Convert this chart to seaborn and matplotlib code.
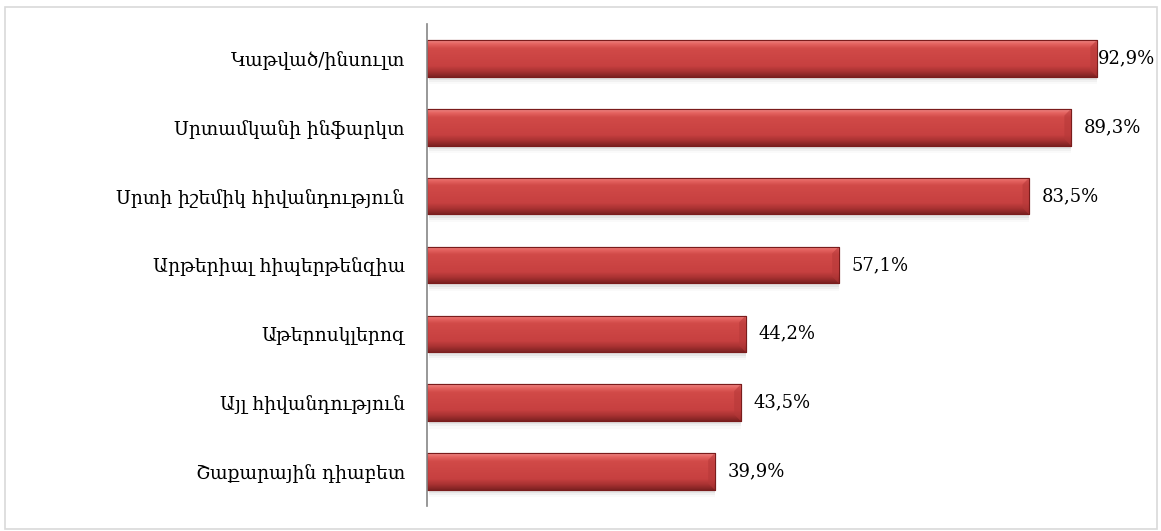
import numpy as np
import pandas as pd
import matplotlib
matplotlib.use("Agg")
import matplotlib.pyplot as plt
import seaborn as sns
from matplotlib.colors import LinearSegmentedColormap
from matplotlib.patches import Rectangle

categories = [
    "Կաթված/ինսուլտ",
    "Սրտամկանի ինֆարկտ",
    "Սրտի իշեմիկ հիվանդություն",
    "Արթերիալ հիպերթենզիա",
    "Աթերոսկլերոզ",
    "Այլ հիվանդություն",
    "Շաքարային դիաբետ",
]
values = [92.9, 89.3, 83.5, 57.1, 44.2, 43.5, 39.9]
value_labels = ["92,9%", "89,3%", "83,5%", "57,1%", "44,2%", "43,5%", "39,9%"]

sns.set_theme(style="white")
plt.rcParams["font.family"] = ["DejaVu Serif"]

W, H = 1161, 531
fig = plt.figure(figsize=(W / 100, H / 100), dpi=100)
fig.patch.set_facecolor("white")

# light chart-area frame
fig.add_artist(Rectangle((5 / W, 1 - 529 / H), 1152 / W, 522 / H,
                         transform=fig.transFigure, fill=False,
                         edgecolor="#D9D9D9", linewidth=1.2))

ax = fig.add_axes([427 / W, 1 - 506 / H, 721 / W, 482 / H])
df = pd.DataFrame({"cat": categories, "val": values})
sns.barplot(data=df, x="val", y="cat", orient="h", color="#C94242",
            saturation=1, width=0.53, edgecolor="#7A1C1C", linewidth=0.8,
            ax=ax, zorder=3)

# vertical shading of each bar: light top band, darker bottom edge
shade = LinearSegmentedColormap.from_list("bevel", [
    (0.00, "#EE8684"), (0.10, "#E4625F"), (0.22, "#D14A48"),
    (0.70, "#C74040"), (0.85, "#AA3333"), (1.00, "#7E2222")])
grad = np.linspace(0, 1, 64).reshape(-1, 1)
for patch in list(ax.patches):
    x0, y0 = patch.get_x(), patch.get_y()
    w, h = patch.get_width(), patch.get_height()
    # soft drop shadow under the bar
    for k, a in enumerate([0.10, 0.07, 0.04]):
        ax.add_patch(Rectangle((x0 + 0.3, y0 + 0.05 + k * 0.03), w - 0.3, h,
                               facecolor="#808080", edgecolor="none",
                               alpha=a, zorder=1))
    im = ax.imshow(grad, extent=(x0, x0 + w, y0 + h, y0), origin="upper",
                   aspect="auto", cmap=shade, zorder=3.5, interpolation="bilinear")
    im.set_clip_path(patch)
    # chamfered right end
    bev = min(0.9, w * 0.1)
    ax.fill([x0 + w - bev, x0 + w, x0 + w, x0 + w - bev],
            [y0 + h * 0.18, y0, y0 + h, y0 + h * 0.82],
            color="#B53838", alpha=0.55, zorder=3.6, linewidth=0)
    ax.add_patch(Rectangle((x0, y0), w, h, fill=False, edgecolor="#7A1C1C",
                           linewidth=0.8, zorder=3.8))

ax.set_xlim(0, 100)
ax.set_ylim(6.5, -0.5)
ax.set_xlabel("")
ax.set_ylabel("")
ax.set_xticks([])
for s in ["top", "right", "bottom"]:
    ax.spines[s].set_visible(False)
ax.spines["left"].set_color("#868686")
ax.spines["left"].set_linewidth(1.2)
ax.spines["left"].set_zorder(5)
ax.tick_params(axis="y", length=0, pad=16, labelsize=13.4, colors="black")

fig.canvas.draw()
renderer = fig.canvas.get_renderer()
ax_right = ax.get_window_extent(renderer).x1
for i, (v, lab) in enumerate(zip(values, value_labels)):
    t = ax.annotate(lab, (v, i), xytext=(9, 0), textcoords="offset points",
                    ha="left", va="center", fontsize=13, color="black",
                    annotation_clip=False, zorder=6)
    if t.get_window_extent(renderer).x1 > ax_right:
        # not enough room: hug the end of the bar
        t.set_position((0.5, 0))

fig.savefig("out.png", dpi=100)
